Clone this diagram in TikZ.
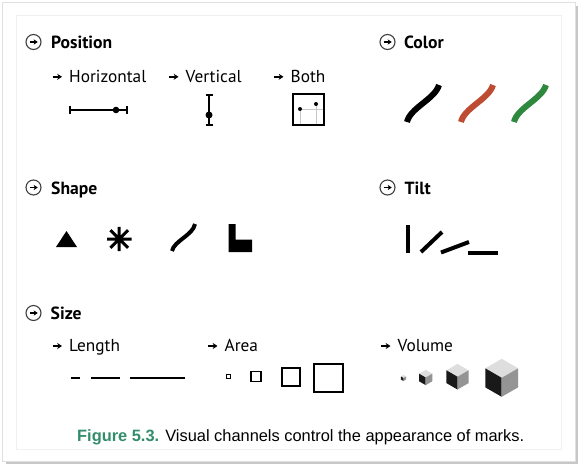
\documentclass[tikz,border=0pt]{standalone}
\usepackage{fontspec}
\setmainfont{PT Sans}
\newfontfamily\captionfont{Liberation Sans}
\usetikzlibrary{arrows.meta}
\definecolor{chanred}{RGB}{190,76,50}
\definecolor{changreen}{RGB}{46,136,62}
\definecolor{figgreen}{RGB}{50,142,106}
\newcommand{\isocube}[3]{%
  \fill[black!13] (#1,#2-#3) -- ({#1+0.866*#3},#2-0.5*#3) -- (#1,#2) -- ({#1-0.866*#3},#2-0.5*#3) -- cycle;
  \fill[black!90] ({#1-0.866*#3},#2-0.5*#3) -- (#1,#2) -- (#1,#2+#3) -- ({#1-0.866*#3},#2+0.5*#3) -- cycle;
  \fill[black!42] (#1,#2) -- ({#1+0.866*#3},#2-0.5*#3) -- ({#1+0.866*#3},#2+0.5*#3) -- (#1,#2+#3) -- cycle;}
\tikzset{
  head/.style={anchor=base west,inner sep=0pt,font=\fontsize{17.6}{20}\selectfont\bfseries},
  sub/.style={anchor=base west,inner sep=0pt,font=\fontsize{17.3}{20}\selectfont},
  icon/.style={circle,draw=black!75,line width=1.1pt,minimum size=15pt,inner sep=0pt},
  iconarrow/.style={-{Stealth[length=4pt,width=5.2pt]},line width=1.3pt},
  subarrow/.style={-{Stealth[length=4.8pt,width=6pt]},line width=1.7pt},
  stroke/.style={line width=6pt},
  tilt/.style={line width=4pt},
}

\begin{document}
\begin{tikzpicture}[x=1pt,y=-1pt]
\fill[black!22] (6,6) rectangle (577.5,463.5);
\fill[white,draw=black!12] (2.5,2.5) rectangle (575,461.5);
\draw[black!6] (16.5,15) rectangle (561.5,449.5);
\useasboundingbox (0,0) rectangle (578,464);

\node[icon](iPos) at (33.5,42) {};
\node[head](hPos) at (51,48) {Position};
\node[icon](iCol) at (387.5,42) {};
\node[head](hCol) at (404,48) {Color};
\node[icon](iSha) at (33.5,187.5) {};
\node[head](hSha) at (51,194.5) {Shape};
\node[icon](iTil) at (387.5,187.5) {};
\node[head](hTil) at (404.5,194.5) {Tilt};
\node[icon](iSiz) at (33.5,313) {};
\node[head](hSiz) at (50.5,319.5) {Size};
\draw[iconarrow] ([xshift=-4pt]iPos.center) -- ([xshift=4.2pt]iPos.center);
\draw[iconarrow] ([xshift=-4pt]iCol.center) -- ([xshift=4.2pt]iCol.center);
\draw[iconarrow] ([xshift=-4pt]iSha.center) -- ([xshift=4.2pt]iSha.center);
\draw[iconarrow] ([xshift=-4pt]iTil.center) -- ([xshift=4.2pt]iTil.center);
\draw[iconarrow] ([xshift=-4pt]iSiz.center) -- ([xshift=4.2pt]iSiz.center);

\node[sub](sHor) at (69,82.3) {Horizontal};
\node[sub](sVer) at (185.5,82.3) {Vertical};
\node[sub](sBot) at (290.5,82.3) {Both};
\node[sub](sLen) at (69,351.5) {Length};
\node[sub](sAre) at (224.5,351.5) {Area};
\node[sub](sVol) at (397.5,351.5) {Volume};
\draw[subarrow] ([xshift=-16.5pt,yshift=5.5pt]sHor.base west) -- ([xshift=-7pt,yshift=5.5pt]sHor.base west);
\draw[subarrow] ([xshift=-16.5pt,yshift=5.5pt]sVer.base west) -- ([xshift=-7pt,yshift=5.5pt]sVer.base west);
\draw[subarrow] ([xshift=-16.5pt,yshift=5.5pt]sBot.base west) -- ([xshift=-7pt,yshift=5.5pt]sBot.base west);
\draw[subarrow] ([xshift=-16.5pt,yshift=5.5pt]sLen.base west) -- ([xshift=-7pt,yshift=5.5pt]sLen.base west);
\draw[subarrow] ([xshift=-16.5pt,yshift=5.5pt]sAre.base west) -- ([xshift=-7pt,yshift=5.5pt]sAre.base west);
\draw[subarrow] ([xshift=-16.5pt,yshift=5.5pt]sVol.base west) -- ([xshift=-7pt,yshift=5.5pt]sVol.base west);

\draw[line width=1.5pt] (70,110) -- (127,110) (70,106) -- (70,114) (127,106) -- (127,114);
\fill (116,110) circle (3.3pt);
\draw[line width=1.5pt] (209,95) -- (209,125) (205.5,95) -- (212.5,95) (205.5,125) -- (212.5,125);
\fill (209,115) circle (3.5pt);
\draw[black!22,line width=0.8pt] (300,109) -- (300,125) (300,109) -- (324,109) (316,104) -- (316,125);
\draw[line width=2pt] (292.5,94) rectangle (324,125);
\fill (300,109) circle (2pt) (316,104) circle (2pt);

\draw[stroke] (407,122) .. controls (410,108) and (435,99) .. (439,85);
\draw[stroke,chanred] (461,122) .. controls (464,108) and (489,99) .. (493,85);
\draw[stroke,changreen] (514,122) .. controls (517,108) and (542,99) .. (546,85);

\fill (56,247) -- (66.5,231) -- (77,247) -- cycle;
\draw[line width=3pt] (107,239) -- (131.5,239) (119.2,226.8) -- (119.2,251.2) (110.4,230.2) -- (128,247.8) (110.4,247.8) -- (128,230.2);
\draw[line width=4pt] (172,251) .. controls (174,241) and (193,235) .. (195,224);
\fill (228.5,224) -- (235.5,224) -- (235.5,239.5) -- (252,239.5) -- (252,252) -- (228.5,252) -- cycle;

\draw[tilt] (408.3,225) -- (408.3,253);
\draw[tilt] (421,252) -- (442,232);
\draw[tilt] (441,252.5) -- (469,242);
\draw[tilt] (467.5,252.5) -- (498,252.5);

\draw[line width=2pt] (70.5,377.5) -- (80,377.5) (90.5,377.5) -- (119.5,377.5) (129.5,377.5) -- (184.5,377.5);
\draw[line width=1.5pt] (226.7,374.7) rectangle (230.7,378.7);
\draw[line width=1.6pt] (251,371.5) rectangle (261,381.5);
\draw[line width=1.8pt] (282,368.3) rectangle (300,386.3);
\draw[line width=2pt] (314.2,363.5) rectangle (342.6,391.5);

\isocube{403.5}{378}{3}
\isocube{425.7}{377.5}{7.6}
\isocube{457.5}{376.7}{12.8}
\isocube{501.7}{377.8}{19}

\node[anchor=base west,inner sep=0pt,font=\captionfont\fontsize{16.4}{20}\selectfont](cap) at (77,441.5) {\textcolor{figgreen}{\textbf{Figure 5.3.}} Visual channels control the appearance of marks.};
\end{tikzpicture}
\end{document}
